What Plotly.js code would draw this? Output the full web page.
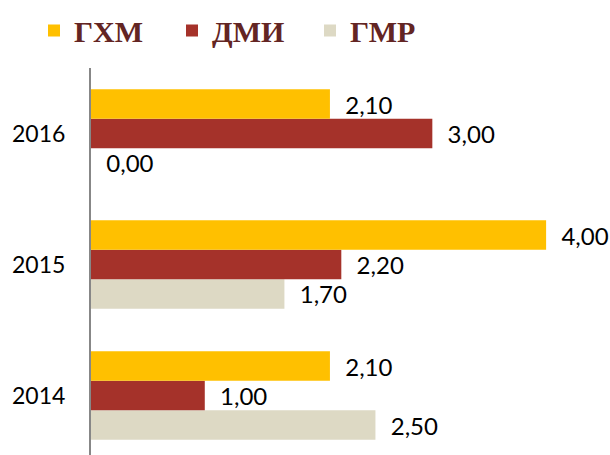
<!DOCTYPE html>
<html>
<head>
<meta charset="utf-8">
<script src="https://cdn.plot.ly/plotly-3.0.1.min.js"></script>
<style>html,body{margin:0;padding:0;background:#fff;}#chart{width:610px;height:455px;}</style>
</head>
<body>
<div id="chart"></div>
<script>
const years = ['2014', '2015', '2016'];
const seriesNames = ['ГХМ', 'ДМИ', 'ГМР'];
const ghm = [2.10, 4.00, 2.10];
const dmi = [1.00, 2.20, 3.00];
const gmr = [2.50, 1.70, 0.00];
const colors = ['#FFC000', '#A5322A', '#DDD9C4'];

const labelFont = {family: 'Lato, Carlito, sans-serif', size: 24, color: '#000'};
function barTrace(name, vals, color) {
  return {
    type: 'bar', orientation: 'h', name: name,
    y: years, x: vals,
    marker: {color: color},
    texttemplate: '\u00a0\u00a0%{x:.2f}',
    textposition: 'outside',
    cliponaxis: false,
    constraintext: 'none',
    textfont: labelFont,
    hoverinfo: 'skip'
  };
}
const data = [
  barTrace(seriesNames[2], gmr, colors[2]),
  barTrace(seriesNames[1], dmi, colors[1]),
  barTrace(seriesNames[0], ghm, colors[0])
];
const layout = {
  width: 610, height: 455,
  margin: {l: 91, r: 7, t: 68, b: 0, autoexpand: false},
  paper_bgcolor: '#fff', plot_bgcolor: '#fff',
  separators: ', ',
  barmode: 'group',
  bargap: 0.325,
  bargroupgap: 0,
  showlegend: true,
  legend: {
    orientation: 'h', traceorder: 'reversed',
    x: -57/512, xanchor: 'left', y: 1.03, yanchor: 'bottom',
    entrywidth: 93, entrywidthmode: 'pixels',
    font: {family: '"Liberation Serif", "Times New Roman", serif', size: 30, color: '#632523', weight: 'bold'}
  },
  xaxis: {range: [0, 4.5], visible: false, fixedrange: true},
  yaxis: {
    type: 'category', categoryorder: 'array', categoryarray: years,
    range: [-0.454, 2.5], autorange: false,
    showline: true, linecolor: '#878787', linewidth: 2,
    ticks: '', showgrid: false, zeroline: false,
    ticklabelstandoff: 19,
    tickfont: {family: 'Lato, Carlito, sans-serif', size: 23, color: '#000'}
  }
};
Plotly.newPlot('chart', data, layout, {staticPlot: true});
</script>
</body>
</html>
